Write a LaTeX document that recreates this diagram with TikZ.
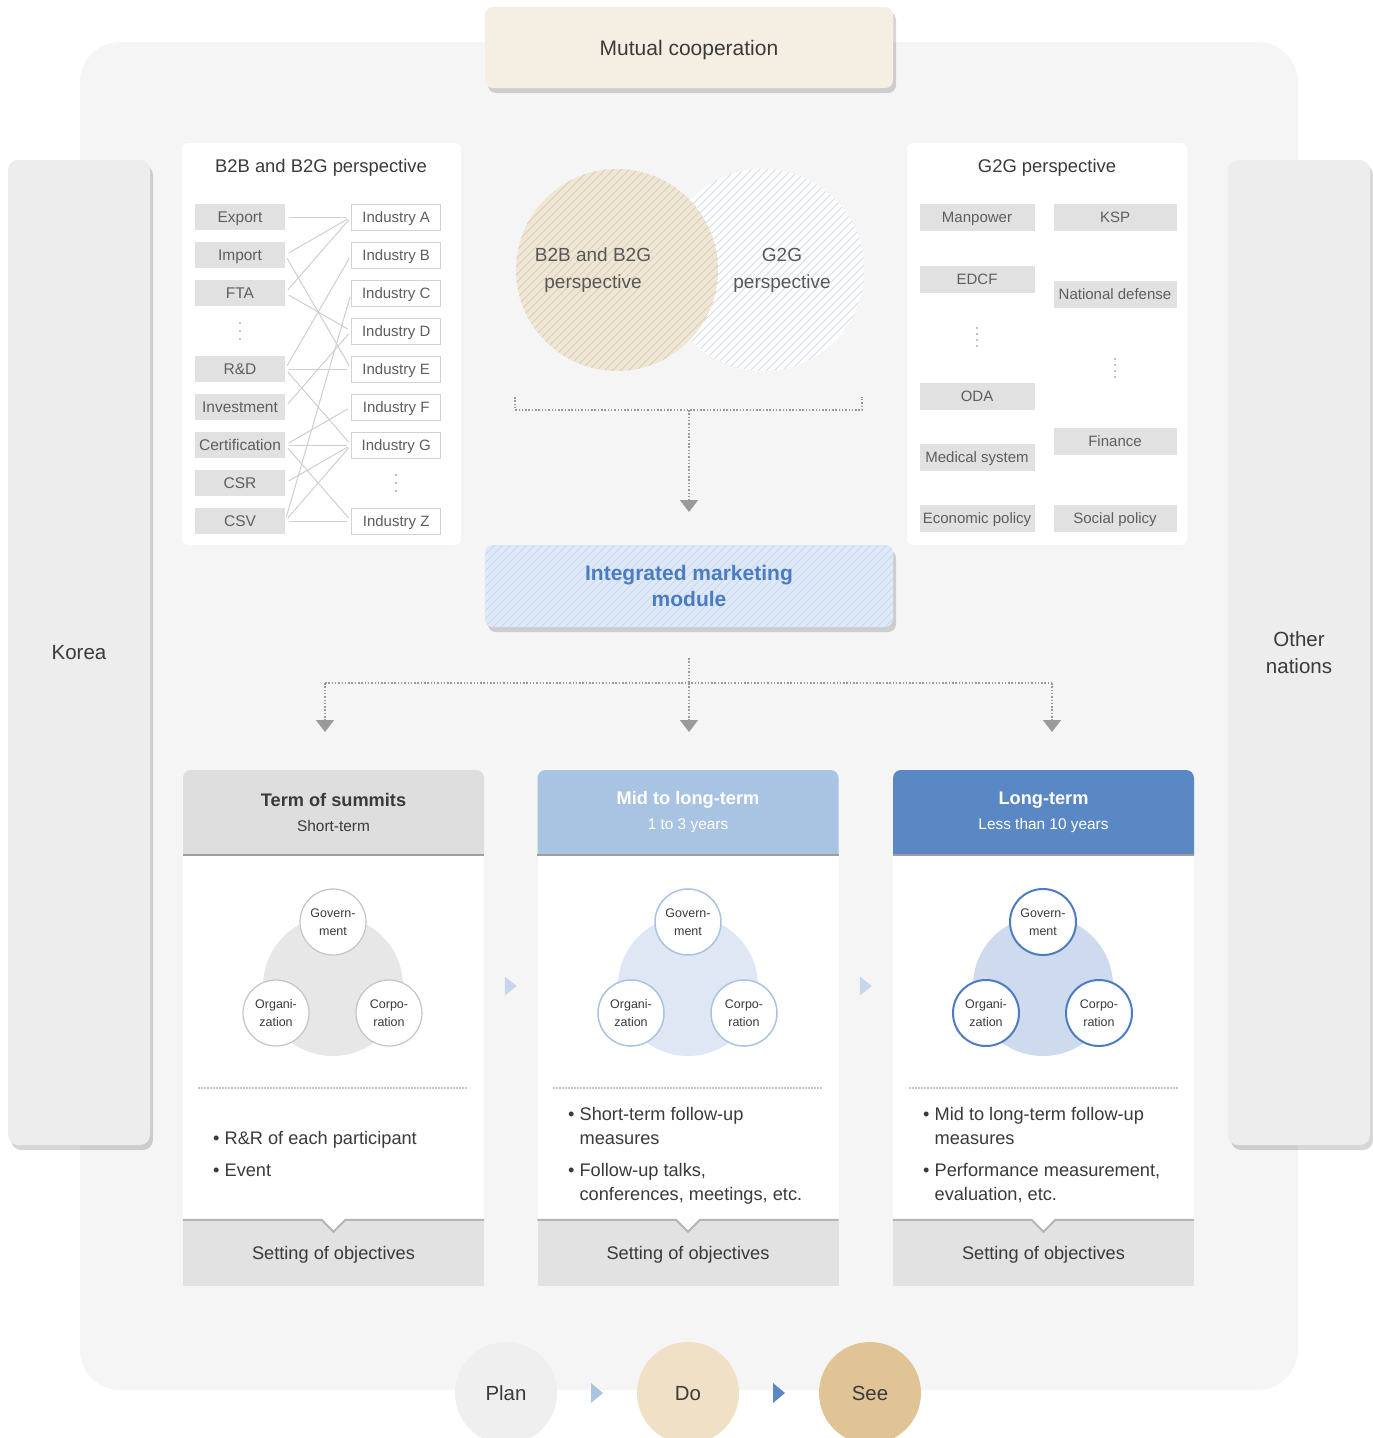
\documentclass[tikz,border=0pt]{standalone}
\usepackage{fontspec}
\setmainfont{Liberation Sans}
\usetikzlibrary{arrows.meta,positioning,calc,shadows}
\newcommand{\setfs}[2]{\fontsize{#1}{#2}\selectfont}

\definecolor{txtgray}{HTML}{5E5E5E}
\definecolor{darktxt}{HTML}{3A3A3A}
\definecolor{bggray}{HTML}{F5F5F5}
\definecolor{sidegray}{HTML}{EDEDED}
\definecolor{boxgray}{HTML}{E1E1E1}
\definecolor{boxline}{HTML}{D2D2D2}
\definecolor{linkgray}{HTML}{CFCFCF}
\definecolor{flowgray}{HTML}{9A9A9A}
\definecolor{beige}{HTML}{F5EFE3}
\definecolor{vennbeige}{HTML}{EFE6D6}
\definecolor{hatchbeige}{HTML}{DCCFB7}
\definecolor{hatchblue}{HTML}{D3DCEB}
\definecolor{modfill}{HTML}{DEE8F6}
\definecolor{modhatch}{HTML}{C9D8EE}
\definecolor{modtext}{HTML}{4A7CC2}
\definecolor{hdrgray}{HTML}{DEDEDE}
\definecolor{hdrlight}{HTML}{A9C4E2}
\definecolor{hdrblue}{HTML}{5A88C4}
\definecolor{cgray}{HTML}{E7E7E7}
\definecolor{clight}{HTML}{DFE7F5}
\definecolor{cblue}{HTML}{CEDAEE}
\definecolor{rimgray}{HTML}{C4C4C4}
\definecolor{rimlight}{HTML}{A9C4E2}
\definecolor{rimblue}{HTML}{4D7CC2}
\definecolor{footgray}{HTML}{E2E2E2}
\definecolor{footedge}{HTML}{B4B4B4}
\definecolor{steplight}{HTML}{C8D6EC}
\definecolor{plancol}{HTML}{EFEFEF}
\definecolor{docol}{HTML}{F0E1C6}
\definecolor{seecol}{HTML}{E1C495}

\tikzset{
  >={Triangle[width=18pt,length=12pt]},
  hatch/.style={path picture={
    \foreach \k in {-440,-432,...,440}
      \draw[#1, line width=0.9pt] ($(path picture bounding box.south west)+(\k,0)$) -- ++(440,-440);}},
  vdot/.style={minimum width=90pt, minimum height=30pt, inner sep=0pt, path picture={
    \foreach \d in {#1}
      \fill[black!32] ($(path picture bounding box.center)+(0,\d)$) circle (1.2pt);}},
  softshadow/.style={drop shadow={shadow xshift=3pt, shadow yshift=-5pt, fill=black, opacity=0.16}},
}

\begin{document}
\begin{tikzpicture}[
  x=1pt, y=-1pt,
  every node/.append style={text=txtgray},
  bgframe/.style={fill=bggray, rounded corners=40pt, minimum width=1218pt, minimum height=1348pt},
  sidebar/.style={fill=sidegray, rounded corners=10pt, minimum width=142pt, minimum height=985pt,
                  softshadow, align=center, text=darktxt, font=\setfs{20.5}{27}},
  topbox/.style={fill=beige, rounded corners=8pt, minimum width=408pt, minimum height=81pt,
                 text height=15pt, text depth=0pt, softshadow, text=darktxt, font=\setfs{21}{25}},
  panel/.style={fill=white, rounded corners=6pt, inner sep=0pt},
  ptitle/.style={text=darktxt, font=\setfs{18.4}{22}},
  lbox/.style={fill=boxgray, minimum width=90pt, minimum height=26pt, inner sep=0pt,
               text height=11pt, text depth=0pt, font=\setfs{15.5}{18}},
  rbox/.style={fill=white, draw=boxline, line width=1pt, minimum width=89pt, minimum height=26pt,
               inner sep=0pt, text height=11pt, text depth=0pt, font=\setfs{15}{18}},
  gbox/.style={fill=boxgray, minimum width=115pt, minimum height=27pt, inner sep=0pt,
               text height=11pt, text depth=0pt, font=\setfs{15}{18}},
  link/.style={draw=linkgray, line width=1pt, shorten <=4pt, shorten >=4pt},
  venn/.style={circle, minimum size=202pt, inner sep=0pt},
  venntxt/.style={align=center, text=darktxt!85, font=\setfs{19}{27}},
  flow/.style={draw=flowgray, line width=1.5pt, dash pattern=on 1.5pt off 1.8pt},
  module/.style={fill=modfill, hatch=modhatch, rounded corners=8pt, minimum width=408pt, minimum height=82pt,
                 softshadow, align=center, text=modtext, font=\bfseries\setfs{21}{26}},
  hdr/.style={rounded corners=8pt, minimum width=301pt, minimum height=93pt},
  hdrtxt/.style={align=center, font=\setfs{18.2}{25}},
  body/.style={fill=white, minimum width=301pt, minimum height=365pt},
  hdrline/.style={draw=black!38, line width=2.5pt},
  bigc/.style={circle, minimum size=140pt, inner sep=0pt},
  smallc/.style={circle, fill=white, minimum size=66pt, inner sep=0pt, align=center,
                 text=darktxt, font=\setfs{12.5}{18}},
  sepline/.style={draw=black!22, line width=1.2pt, dash pattern=on 1.5pt off 1.5pt},
  bullets/.style={anchor=north west, inner sep=0pt, align=left, text=darktxt, font=\setfs{18.2}{24}},
  foot/.style={fill=footgray, minimum width=301pt, minimum height=66pt, text height=13pt, text depth=0pt,
               text=darktxt, font=\setfs{18.2}{22}},
  footline/.style={draw=footedge, line width=2pt},
  pds/.style={circle, minimum size=102pt, inner sep=0pt, text height=14.5pt, text depth=0pt,
              text=darktxt, font=\setfs{20.4}{24}},
]
\useasboundingbox (0,0) rectangle (1373,1438);
\clip (0,0) rectangle (1373,1438);

% big light frame and the two partners
\node[bgframe] (frame) at (689,716) {};
\node[sidebar] (korea) at (79,652.5) {Korea};
\node[sidebar] (other) at (1299,652.5) {Other\\nations};
\node[topbox] (mutual) at (689,47.5) {Mutual cooperation};

% B2B / B2G panel
\node[panel, minimum width=279pt, minimum height=402pt] (lpanel) at (321.5,344) {};
\node[ptitle] (ltitle) at (321,168) {B2B and B2G perspective};
\node[lbox] (exp) at (240,217) {Export};
\node[lbox, below=11.6pt of exp] (imp) {Import};
\node[lbox, below=11.6pt of imp] (fta) {FTA};
\node[vdot={-8,0,8}, minimum height=26pt, below=11.6pt of fta] (ldots) {};
\node[lbox, below=11.6pt of ldots] (rnd) {R\&D};
\node[lbox, below=11.6pt of rnd] (inv) {Investment};
\node[lbox, below=11.6pt of inv] (cert) {Certification};
\node[lbox, below=11.6pt of cert] (csr) {CSR};
\node[lbox, below=11.6pt of csr] (csv) {CSV};

\node[rbox, right=66pt of exp] (inda) {Industry A};
\node[rbox, right=66pt of imp] (indb) {Industry B};
\node[rbox, right=66pt of fta] (indc) {Industry C};
\node[rbox, right=66pt of ldots] (indd) {Industry D};
\node[rbox, right=66pt of rnd] (inde) {Industry E};
\node[rbox, right=66pt of inv] (indf) {Industry F};
\node[rbox, right=66pt of cert] (indg) {Industry G};
\node[vdot={-8,0,8}, minimum width=89pt, minimum height=26pt, right=66pt of csr] (rdots) {};
\node[rbox, right=66pt of csv] (indz) {Industry Z};

% field-to-industry links
\draw[link] (exp.east) -- (inda.west);
\draw[link] (imp.east) -- (inda.west);
\draw[link] (imp.east) -- (inde.west);
\draw[link] (fta.east) -- (inda.west);
\draw[link] (fta.east) -- (indd.west);
\draw[link] (rnd.east) -- (indb.west);
\draw[link] (rnd.east) -- (inde.west);
\draw[link] (rnd.east) -- (indg.west);
\draw[link] (inv.east) -- (indd.west);
\draw[link] (cert.east) -- (indf.west);
\draw[link] (cert.east) -- (indg.west);
\draw[link] (cert.east) -- (indz.west);
\draw[link] (csr.east) -- (indg.west);
\draw[link] (csv.east) -- (indc.west);
\draw[link] (csv.east) -- (indg.west);
\draw[link] (csv.east) -- (indz.west);

% G2G panel
\node[panel, minimum width=280pt, minimum height=402pt] (rpanel) at (1047,344) {};
\node[ptitle] (rtitle) at (1047,168) {G2G perspective};
\node[gbox] (manp) at (977,217) {Manpower};
\node[gbox] (edcf) at (977,279) {EDCF};
\node[vdot={-9,-3,3,9}] (gdots) at (977,337) {};
\node[gbox] (oda) at (977,396) {ODA};
\node[gbox] (med) at (977,457) {Medical system};
\node[gbox] (econ) at (977,518) {Economic policy};
\node[gbox, minimum width=123pt] (ksp) at (1115,217) {KSP};
\node[gbox, minimum width=123pt] (natdef) at (1115,294) {National defense};
\node[vdot={-9,-3,3,9}] (kdots) at (1115,368) {};
\node[gbox, minimum width=123pt] (fin) at (1115,441) {Finance};
\node[gbox, minimum width=123pt] (soc) at (1115,518) {Social policy};

% perspectives merge
\node[venn, fill=white, hatch=hatchblue] (vg2g) at (763,270) {};
\node[venn, fill=vennbeige, hatch=hatchbeige] (vb2b) at (617,270) {};
\node[venntxt] (vb2btxt) at (593,270) {B2B and B2G\\perspective};
\node[venntxt] (vg2gtxt) at (782,270) {G2G\\perspective};

\coordinate (brl) at (515,397);
\coordinate (brr) at (862,397);
\coordinate (brm) at (689,410);
\coordinate (modin) at (689,512);
\draw[flow] (brl) |- (brm) -| (brr);
\draw[flow, ->] (brm) -- (modin);

\node[module] (module) at (689,586) {Integrated marketing\\module};

% split into the three terms
\coordinate (mout) at (689,658);
\coordinate (split) at (689,683);
\coordinate (sl) at (325,683);
\coordinate (sr) at (1052,683);
\coordinate (in1) at (325,732);
\coordinate (in2) at (689,732);
\coordinate (in3) at (1052,732);
\draw[flow] (mout) -- (split);
\draw[flow] (sl) -- (sr);
\draw[flow, ->] (sl) -- (in1);
\draw[flow, ->] (split) -- (in2);
\draw[flow, ->] (sr) -- (in3);

% column 1 - term of summits
\node[hdr, fill=hdrgray] (hdr1) at (333.5,816.5) {};
\node[hdrtxt, text=darktxt] (ttl1) at (333.5,812) {\textbf{Term of summits}\\{\setfs{15.4}{20}Short-term}};
\node[body] (body1) at (333.5,1037.5) {};
\draw[hdrline] (body1.north west) -- (body1.north east);
\node[bigc, fill=cgray] (tri1) at (333,986) {};
\node[smallc, draw=rimgray, line width=1.2pt] (gov1) at (333,922) {Govern-\\ment};
\node[smallc, draw=rimgray, line width=1.2pt] (org1) at (276,1013) {Organi-\\zation};
\node[smallc, draw=rimgray, line width=1.2pt] (cor1) at (389,1013) {Corpo-\\ration};
\draw[sepline] (198,1088) -- (468,1088);
\node[bullets] (bul1) at (213,1131.5) {\textbullet\ R\&R of each participant\\[8pt]\textbullet\ Event};
\node[foot] (foot1) at (333.5,1253) {Setting of objectives};
\fill[white] ($(foot1.north)+(-12,0)$) -- ($(foot1.north)+(0,12)$) -- ($(foot1.north)+(12,0)$) -- cycle;
\draw[footline] (foot1.north west) -- ($(foot1.north)+(-12,0)$) -- ($(foot1.north)+(0,12)$)
  -- ($(foot1.north)+(12,0)$) -- (foot1.north east);

% column 2 - mid to long-term
\node[hdr, fill=hdrlight] (hdr2) at (688,816.5) {};
\node[hdrtxt, text=white] (ttl2) at (688,812) {\textbf{Mid to long-term}\\{\setfs{15.4}{20}1 to 3 years}};
\node[body] (body2) at (688,1037.5) {};
\draw[hdrline] (body2.north west) -- (body2.north east);
\node[bigc, fill=clight] (tri2) at (688,986) {};
\node[smallc, draw=rimlight, line width=1.5pt] (gov2) at (688,922) {Govern-\\ment};
\node[smallc, draw=rimlight, line width=1.5pt] (org2) at (631,1013) {Organi-\\zation};
\node[smallc, draw=rimlight, line width=1.5pt] (cor2) at (744,1013) {Corpo-\\ration};
\draw[sepline] (553,1088) -- (823,1088);
\node[bullets] (bul2) at (568,1107.5) {\textbullet\ Short-term follow-up\\\hphantom{\textbullet\ }measures\\[8pt]%
  \textbullet\ Follow-up talks,\\\hphantom{\textbullet\ }conferences, meetings, etc.};
\node[foot] (foot2) at (688,1253) {Setting of objectives};
\fill[white] ($(foot2.north)+(-12,0)$) -- ($(foot2.north)+(0,12)$) -- ($(foot2.north)+(12,0)$) -- cycle;
\draw[footline] (foot2.north west) -- ($(foot2.north)+(-12,0)$) -- ($(foot2.north)+(0,12)$)
  -- ($(foot2.north)+(12,0)$) -- (foot2.north east);

% column 3 - long-term
\node[hdr, fill=hdrblue] (hdr3) at (1043.5,816.5) {};
\node[hdrtxt, text=white] (ttl3) at (1043.5,812) {\textbf{Long-term}\\{\setfs{15.4}{20}Less than 10 years}};
\node[body] (body3) at (1043.5,1037.5) {};
\draw[hdrline] (body3.north west) -- (body3.north east);
\node[bigc, fill=cblue] (tri3) at (1043,986) {};
\node[smallc, draw=rimblue, line width=2pt] (gov3) at (1043,922) {Govern-\\ment};
\node[smallc, draw=rimblue, line width=2pt] (org3) at (986,1013) {Organi-\\zation};
\node[smallc, draw=rimblue, line width=2pt] (cor3) at (1099,1013) {Corpo-\\ration};
\draw[sepline] (909,1088) -- (1179,1088);
\node[bullets] (bul3) at (923,1107.5) {\textbullet\ Mid to long-term follow-up\\\hphantom{\textbullet\ }measures\\[8pt]%
  \textbullet\ Performance measurement,\\\hphantom{\textbullet\ }evaluation, etc.};
\node[foot] (foot3) at (1043.5,1253) {Setting of objectives};
\fill[white] ($(foot3.north)+(-12,0)$) -- ($(foot3.north)+(0,12)$) -- ($(foot3.north)+(12,0)$) -- cycle;
\draw[footline] (foot3.north west) -- ($(foot3.north)+(-12,0)$) -- ($(foot3.north)+(0,12)$)
  -- ($(foot3.north)+(12,0)$) -- (foot3.north east);

% steps between the columns
\coordinate (m12) at ($(body1.east)!0.5!(body2.west)$);
\coordinate (m23) at ($(body2.east)!0.5!(body3.west)$);
\coordinate (a12) at (m12 |- tri1);
\coordinate (a23) at (m23 |- tri2);
\fill[steplight] ($(a12)+(-6,-9.5)$) -- ($(a12)+(6,0)$) -- ($(a12)+(-6,9.5)$) -- cycle;
\fill[steplight] ($(a23)+(-6,-9.5)$) -- ($(a23)+(6,0)$) -- ($(a23)+(-6,9.5)$) -- cycle;

% plan - do - see
\node[pds, fill=plancol] (plan) at (506,1393) {Plan};
\node[pds, fill=docol] (do) at (688,1393) {Do};
\node[pds, fill=seecol] (see) at (870,1393) {See};
\coordinate (pd) at ($(plan.east)!0.5!(do.west)$);
\coordinate (ds) at ($(do.east)!0.5!(see.west)$);
\fill[hdrlight] ($(pd)+(-6,-10)$) -- ($(pd)+(6,0)$) -- ($(pd)+(-6,10)$) -- cycle;
\fill[hdrblue] ($(ds)+(-6,-10)$) -- ($(ds)+(6,0)$) -- ($(ds)+(-6,10)$) -- cycle;

\end{tikzpicture}
\end{document}
